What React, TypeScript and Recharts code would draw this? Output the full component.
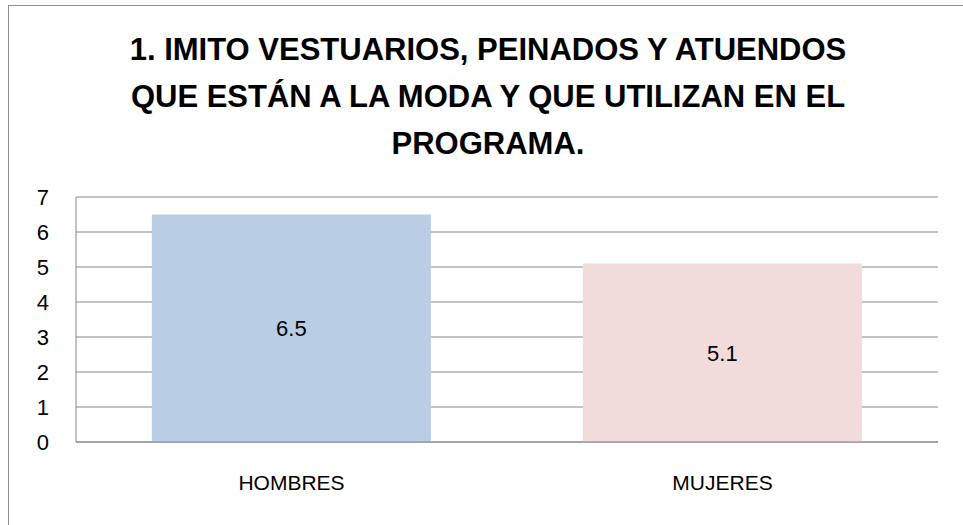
import React from 'react';
import { BarChart, Bar, XAxis, YAxis, CartesianGrid, LabelList, Cell } from 'recharts';

const categories = ['HOMBRES', 'MUJERES'];
const values = [6.5, 5.1];
const yTicks = [0, 1, 2, 3, 4, 5, 6, 7];
const titleLines = [
  '1. IMITO VESTUARIOS, PEINADOS Y ATUENDOS',
  'QUE ESTÁN A LA MODA Y QUE UTILIZAN EN EL',
  'PROGRAMA.',
];

const barColors = ['#B9CDE5', '#F2DCDB'];
const gray = '#868686';
const font = '"Liberation Sans", Arial, sans-serif';

const data = categories.map((name, i) => ({ name, value: values[i] }));

export default function App() {
  return (
    <div
      style={{
        position: 'fixed',
        left: 0,
        top: 0,
        width: 963,
        height: 525,
        overflow: 'hidden',
        background: '#fff',
        fontFamily: font,
      }}
    >
      <div
        style={{
          position: 'absolute',
          left: 8,
          top: 5,
          width: 975,
          height: 540,
          border: '1px solid #8c8c8c',
          boxSizing: 'border-box',
        }}
      />
      <div
        style={{
          position: 'absolute',
          left: 8,
          width: 960,
          top: 26,
          textAlign: 'center',
          fontWeight: 'bold',
          fontSize: 31,
          lineHeight: '47px',
          color: '#000',
        }}
      >
        {titleLines.map((l) => (
          <div key={l}>{l}</div>
        ))}
      </div>
      <div style={{ position: 'absolute', left: 0, top: 0 }}>
        <BarChart
          width={963}
          height={525}
          data={data}
          margin={{ top: 197, right: 25, bottom: 23, left: 0 }}
          barCategoryGap="17.6%"
        >
          <CartesianGrid vertical={false} stroke={gray} strokeDasharray="" />
          <XAxis
            dataKey="name"
            axisLine={{ stroke: gray }}
            tickLine={false}
            tickSize={0}
            tickMargin={33}
            height={60}
            tick={{ fill: '#000', fontSize: 21, fontFamily: font }}
          />
          <YAxis
            domain={[0, 7]}
            ticks={yTicks}
            interval={0}
            width={76}
            axisLine={{ stroke: gray }}
            tickLine={false}
            tickSize={0}
            tickMargin={27}
            tick={{ fill: '#000', fontSize: 22, fontFamily: font }}
          />
          <Bar dataKey="value" isAnimationActive={false}>
            {data.map((d, i) => (
              <Cell key={d.name} fill={barColors[i]} />
            ))}
            <LabelList
              dataKey="value"
              position="center"
              fill="#000"
              fontSize={22}
              fontFamily={font}
            />
          </Bar>
        </BarChart>
      </div>
    </div>
  );
}
